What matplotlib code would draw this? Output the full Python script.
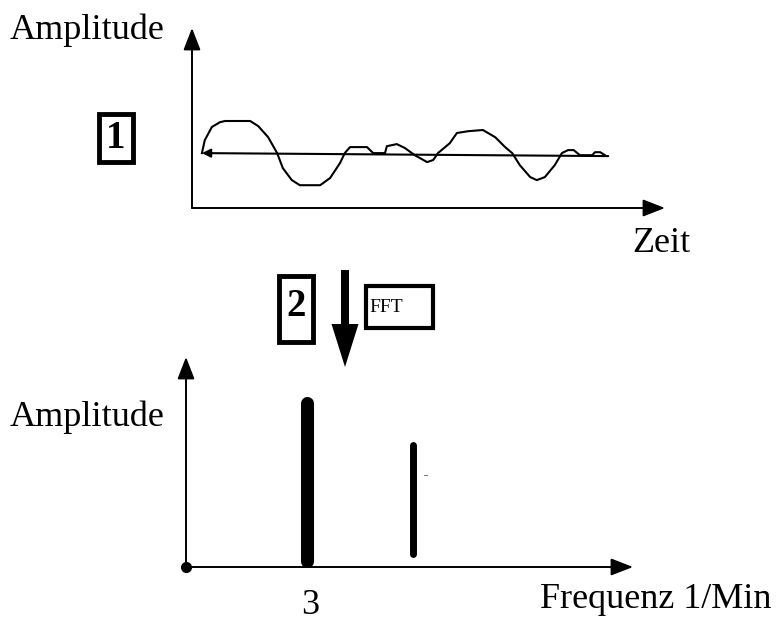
import matplotlib
matplotlib.use("Agg")
import matplotlib.pyplot as plt
import matplotlib.patches as patches

# signal in time domain (time units, amplitude units)
zeit = [2.1, 2.7, 4.2, 5.9, 7.0, 12.3, 14.0, 16.1, 18.0, 19.2, 21.1, 22.8, 27.1, 29.2,
        31.3, 32.3, 33.4, 37.0, 38.3, 40.8, 41.2, 43.3, 45.0, 47.1, 49.7, 51.0, 52.0,
        54.5, 56.0, 58.4, 61.5, 64.1, 66.2, 67.7, 69.3, 71.5, 72.9, 74.6, 76.7, 78.2,
        79.5, 80.7, 82.0, 84.6, 85.2, 86.3, 87.3]
amplitude = [0.0, 0.43, 0.87, 1.03, 1.07, 1.07, 0.9, 0.53, 0.0, -0.5, -0.9, -1.07, -1.07, -0.83,
             -0.33, 0.0, 0.2, 0.2, 0.0, 0.0, 0.23, 0.3, 0.17, -0.07, -0.3, -0.23, 0.0,
             0.33, 0.67, 0.73, 0.77, 0.53, 0.2, 0.0, -0.4, -0.8, -0.9, -0.8, -0.4, 0.0,
             0.1, 0.1, -0.07, -0.07, 0.03, 0.03, -0.07]
mittel_t = [2.1, 88.0]
mittel_a = [0.0, -0.1]

# spectrum
frequenz = [3.0, 5.63]
spek_oben = [8.2, 6.1]
spek_unten = [0.3, 0.65]
spek_breite = [9.4, 5.0]

fig = plt.figure(figsize=(7.77, 6.23), dpi=100)
W, H = 777, 623
serif = ["Liberation Serif", "DejaVu Serif"]


def ax_at(x0, y0, x1, y1):
    # pixel box (top-left origin) -> figure axes
    return fig.add_axes([x0 / W, 1 - y1 / H, (x1 - x0) / W, (y1 - y0) / H])


def achsen(ax):
    ax.set_axis_off()
    ap = dict(arrowstyle="-|>,head_length=0.9,head_width=0.35", color="black", lw=1.4,
              shrinkA=0, shrinkB=0, mutation_scale=15)
    ax.annotate("", xy=(1, 0), xytext=(0, 0), xycoords="axes fraction", arrowprops=ap)
    ax.annotate("", xy=(0, 1), xytext=(0, 0), xycoords="axes fraction", arrowprops=ap)


# top: time signal
ax1 = ax_at(192, 28, 665, 208)
ax1.set_xlim(0, 100)
ax1.set_ylim(-1.83, 4.17)
achsen(ax1)
ax1.plot(zeit, amplitude, color="black", lw=1.5)
ax1.annotate("", xy=(mittel_t[0], mittel_a[0]), xytext=(mittel_t[1], mittel_a[1]),
             arrowprops=dict(arrowstyle="-|>,head_length=0.5,head_width=0.25", color="black",
                             lw=1.5, shrinkA=0, shrinkB=0, mutation_scale=10))

# bottom: spectrum
ax2 = ax_at(186, 357, 633, 567)
ax2.set_xlim(0, 11.1)
ax2.set_ylim(0, 10.5)
achsen(ax2)
for f, o, u, b in zip(frequenz, spek_oben, spek_unten, spek_breite):
    ax2.plot([f, f], [u, o], color="black", lw=b, solid_capstyle="round")
ax2.plot([0], [0], "o", color="black", ms=7, clip_on=False)

# overlay layer for labels and boxes
ov = fig.add_axes([0, 0, 1, 1])
ov.set_xlim(0, W)
ov.set_ylim(H, 0)
ov.set_axis_off()
ov.patch.set_alpha(0)

ov.text(10, 30, "Amplitude", fontsize=26, family=serif, va="center", ha="left")
ov.text(632, 243, "Zeit", fontsize=26, family=serif, va="center", ha="left")
ov.text(10, 417, "Amplitude", fontsize=26, family=serif, va="center", ha="left")
ov.text(540, 600, "Frequenz 1/Min", fontsize=26, family=serif, va="center", ha="left")
ov.text(310, 605, "3", fontsize=26, family=serif, va="center", ha="center")

ov.add_patch(patches.Rectangle((99, 114), 34, 48, fill=False, lw=3.5, ec="black"))
ov.text(116, 138, "1", fontsize=28, family=serif, weight="bold", va="center", ha="center")
ov.add_patch(patches.Rectangle((279, 276), 34, 66, fill=False, lw=3.5, ec="black"))
ov.text(296, 306, "2", fontsize=28, family=serif, weight="bold", va="center", ha="center")
ov.add_patch(patches.Rectangle((366, 286), 67, 42, fill=False, lw=3, ec="black"))
ov.text(369, 307, "FFT", fontsize=14, family=serif, va="center", ha="left")

ov.add_patch(patches.FancyArrow(345, 270, 0, 97, width=8, head_width=27, head_length=43,
                                length_includes_head=True, color="black", lw=0))
ov.plot([424, 427], [475, 475], color="gray", lw=0.8)

fig.savefig("out.png", dpi=100)
